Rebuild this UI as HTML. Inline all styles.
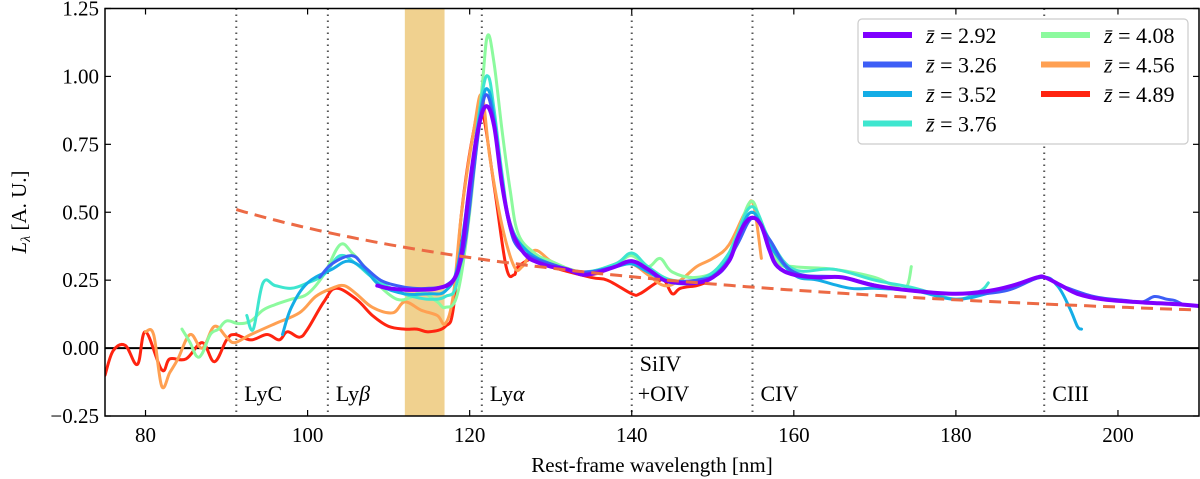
<!DOCTYPE html>
<html><head><meta charset="utf-8"><style>
html,body{margin:0;padding:0;background:#fff;}
svg{display:block;font-family:"Liberation Serif",serif;}
</style></head><body>
<svg id="chart" width="1200" height="479" viewBox="0 0 1200 479"></svg>
<script>
// ---- data ----
const xTicks=[80,100,120,140,160,180,200];
const yTicks=[-0.25,0,0.25,0.5,0.75,1.0,1.25];
const yTickLabels=["\u22120.25","0.00","0.25","0.50","0.75","1.00","1.25"];
const lineNames=["LyC","Ly\u03b2","Ly\u03b1","SiIV","CIV","CIII"];
const linePos=[91.2,102.5,121.5,140.0,154.9,190.9];
const bandRange=[112.0,116.9];
const powerLawAmp=0.51, powerLawRef=91.2, powerLawIdx=-1.55, powerLawStart=91.2, powerLawEnd=210;
const seriesLabels=["2.92","3.26","3.52","3.76","4.08","4.56","4.89"];
const seriesColors=["#7f00ff","#3d5ef6","#14ade6","#3ee6cf","#8cfa9e","#ffa052","#ff2410"];
const seriesWidths=[4,3,3,3,3,3,3];

const wl0=[108.6,110,112,114,116,118,119,120,121,122,123,124,125,126,127,128,130,132,134,136,138,140,142,144,146,148,150,152,153,154,155,156,157,158,160,163,166,170,175,180,184,187,190,191,193,195,198,202,205,208,210];
const v0=[0.23,0.22,0.215,0.215,0.22,0.25,0.35,0.6,0.8,0.89,0.82,0.6,0.45,0.38,0.34,0.32,0.30,0.29,0.27,0.28,0.30,0.32,0.29,0.25,0.24,0.24,0.26,0.32,0.40,0.46,0.48,0.45,0.36,0.30,0.27,0.26,0.26,0.23,0.21,0.20,0.21,0.23,0.26,0.26,0.23,0.20,0.18,0.17,0.165,0.16,0.155];
const wl1=[101.5,103,105.5,107,109,111,113,115,117,118.5,119.5,120.5,121.5,122.2,123,124,125,126,128,130,134,138,140,142,144,148,151,153,155,157,160,166,172,180,186,190.5,193,197,201,203,204.5,206,207,208];
const v1=[0.26,0.31,0.34,0.30,0.25,0.23,0.22,0.22,0.23,0.28,0.40,0.65,0.88,0.93,0.83,0.6,0.44,0.37,0.33,0.31,0.28,0.30,0.32,0.29,0.25,0.25,0.28,0.38,0.48,0.40,0.28,0.26,0.22,0.20,0.21,0.26,0.23,0.19,0.175,0.17,0.19,0.18,0.175,0.16];
const wl2=[96.9,98,100,103,105,107,109,112,115,117,118.5,120,121.5,122.3,123,124,125,127,130,134,138,140,142,145,149,152,154.7,157,160,163,167,170,175,180,185,190.5,192.5,194,195,195.5];
const v2=[0.05,0.15,0.24,0.29,0.32,0.29,0.23,0.20,0.20,0.21,0.30,0.6,0.9,0.95,0.85,0.62,0.45,0.36,0.31,0.28,0.30,0.31,0.28,0.24,0.25,0.33,0.50,0.38,0.27,0.25,0.22,0.22,0.21,0.18,0.21,0.26,0.23,0.15,0.08,0.07];
const wl3=[92.5,93.3,94.5,96,98,100,102,104,106,108,111,113,115,117,118.5,120,121.5,122.3,123,124,125,127,130,134,138,140,142,145,149,152,154.7,157,160,165,170,175,180,183,184];
const v3=[0.12,0.07,0.24,0.23,0.22,0.24,0.27,0.34,0.31,0.26,0.21,0.19,0.18,0.19,0.25,0.6,0.93,1.00,0.88,0.64,0.46,0.36,0.31,0.28,0.31,0.35,0.30,0.25,0.26,0.35,0.52,0.40,0.29,0.29,0.25,0.22,0.18,0.21,0.24];
const wl4=[84.5,85.5,86.3,87,88,89,90,91.5,93,94.5,96,98,100,102,104,105.5,107,108.5,111,113,114,116,117,118.5,120,121.5,122.2,123,124,125,126,128,130,134,138,140,142,143.5,145,148,151,153,154.7,156,158,160,165,170,173,174,174.5];
const v4=[0.07,0.02,-0.03,-0.02,0.05,0.07,0.10,0.09,0.10,0.14,0.16,0.18,0.20,0.27,0.38,0.35,0.30,0.24,0.18,0.19,0.21,0.17,0.15,0.20,0.5,0.95,1.15,1.05,0.8,0.58,0.42,0.35,0.32,0.28,0.31,0.34,0.30,0.33,0.28,0.26,0.30,0.42,0.54,0.46,0.32,0.30,0.29,0.26,0.22,0.23,0.30];
const wl5=[80,81,82,83,84,85.5,87,88.5,90,91,93,96,99,101,103,104.5,106,108,110.5,112,114,116,117,118,119,120.5,121.5,122.5,124,125.5,126.5,128,130,132,135,138,140,142,144,146,148,150,152,154,155,156];
const v5=[0.06,0.05,-0.14,-0.09,-0.04,0.05,0.00,0.08,0.04,0.02,0.05,0.09,0.13,0.19,0.22,0.23,0.20,0.15,0.13,0.17,0.14,0.12,0.09,0.2,0.5,0.8,0.93,0.7,0.45,0.30,0.30,0.36,0.32,0.29,0.27,0.30,0.31,0.27,0.23,0.25,0.30,0.33,0.38,0.50,0.53,0.33];
const wl6=[75,76,77.5,79,80,82,83,85,87,88.5,90,91,93,95,96.5,97.5,99,100,102,103.5,106,108,110,112,113.5,115,117,118,119,120.5,121.5,123,124.5,125.5,126,128,130,135,137,140,141,143,144,145,146,148,149];
const v6=[-0.1,-0.01,0.01,-0.06,0.06,-0.08,-0.04,-0.04,0.02,-0.05,0.03,0.05,0.03,0.05,0.03,0.06,0.04,0.07,0.17,0.22,0.18,0.12,0.08,0.07,0.07,0.06,0.08,0.15,0.5,0.8,0.88,0.6,0.30,0.27,0.30,0.33,0.30,0.26,0.25,0.20,0.20,0.24,0.25,0.20,0.22,0.23,0.24];
const seriesWl=[wl0,wl1,wl2,wl3,wl4,wl5,wl6];
const seriesVal=[v0,v1,v2,v3,v4,v5,v6];

// ---- layout ----
const L=105,R=1199,T=8.5,B=416;
const xMin=75,xMax=210,yMin=-0.25,yMax=1.25;
const X=v=>L+(v-xMin)/(xMax-xMin)*(R-L);
const Y=v=>B-(v-yMin)/(yMax-yMin)*(B-T);
const svg=document.getElementById('chart');
const NS="http://www.w3.org/2000/svg";
function mk(tag,attrs,parent){const e=document.createElementNS(NS,tag);for(const k in attrs)e.setAttribute(k,attrs[k]);(parent||svg).appendChild(e);return e;}
function smoothPath(pts){
  let d='M'+pts[0][0].toFixed(1)+' '+pts[0][1].toFixed(1);
  for(let i=0;i<pts.length-1;i++){
    const p0=pts[i-1]||pts[i],p1=pts[i],p2=pts[i+1],p3=pts[i+2]||p2;
    const t=0.18;
    const c1x=p1[0]+(p2[0]-p0[0])*t,c1y=p1[1]+(p2[1]-p0[1])*t;
    const c2x=p2[0]-(p3[0]-p1[0])*t,c2y=p2[1]-(p3[1]-p1[1])*t;
    d+=' C'+c1x.toFixed(1)+' '+c1y.toFixed(1)+' '+c2x.toFixed(1)+' '+c2y.toFixed(1)+' '+p2[0].toFixed(1)+' '+p2[1].toFixed(1);
  }
  return d;
}

const defs=mk('defs',{});
const cp=mk('clipPath',{id:'plotclip'},defs);
mk('rect',{x:L,y:T,width:R-L,height:B-T},cp);
const plot=mk('g',{'clip-path':'url(#plotclip)'});



const band=mk('rect',{x:X(bandRange[0]),y:T,width:X(bandRange[1])-X(bandRange[0]),height:B-T,fill:'#f0d18f'},plot);



const zl=mk('line',{x1:L,x2:R,y1:Y(0),y2:Y(0),stroke:'#000','stroke-width':2},plot);



linePos.forEach((p,i)=>{
  const ln=mk('line',{x1:X(p),x2:X(p),y1:T,y2:B,stroke:'#555','stroke-width':2,'stroke-dasharray':'1.5 4.5'},plot);
  
  
});

for(let s=seriesWl.length-1;s>=0;s--){
  const pts=seriesWl[s].map((w,i)=>[X(w),Y(seriesVal[s][i])]);
  const p=mk('path',{d:smoothPath(pts),fill:'none',stroke:seriesColors[s],'stroke-width':seriesWidths[s],'stroke-linejoin':'round','stroke-linecap':'round'},plot);
  
  
}

let pd='';
for(let w=powerLawStart;w<=powerLawEnd+0.01;w+=1){pd+=(pd?'L':'M')+X(w).toFixed(1)+' '+Y(powerLawAmp*Math.pow(w/powerLawRef,powerLawIdx)).toFixed(1)+' ';}
const pl=mk('path',{d:pd,fill:'none',stroke:'#ec6a45','stroke-width':3,'stroke-dasharray':'12 7'},plot);



lineNames.forEach((n,i)=>{
  if(n==='SiIV'){
    const t1=mk('text',{x:X(linePos[i])+8,y:371,'font-size':22,fill:'#000'});t1.textContent='SiIV';
    
    
    const t2=mk('text',{x:X(linePos[i])+6,y:401,'font-size':22,fill:'#000'});t2.textContent='+OIV';
    
    
  } else {
    const t=mk('text',{x:X(linePos[i])+8,y:401,'font-size':22,fill:'#000'});
    t.innerHTML=n==='Ly\u03b2'?'Ly<tspan font-style="italic">\u03b2</tspan>':n==='Ly\u03b1'?'Ly<tspan font-style="italic">\u03b1</tspan>':n;
    
    
  }
});

const fr=mk('rect',{x:L,y:T,width:R-L,height:B-T,fill:'none',stroke:'#000','stroke-width':1.5});



xTicks.forEach(t=>{
  const x=X(t);
  mk('line',{x1:x,x2:x,y1:B,y2:B-6,stroke:'#000','stroke-width':1.2});
  mk('line',{x1:x,x2:x,y1:T,y2:T+6,stroke:'#000','stroke-width':1.2});
  const tx=mk('text',{x:x,y:B+26,'font-size':21,'text-anchor':'middle'});tx.textContent=t;
  
  
});
yTicks.forEach((t,i)=>{
  const y=Y(t);
  mk('line',{x1:L,x2:L+6,y1:y,y2:y,stroke:'#000','stroke-width':1.2});
  mk('line',{x1:R-6,x2:R,y1:y,y2:y,stroke:'#000','stroke-width':1.2});
  const tx=mk('text',{x:L-6,y:y+7,'font-size':21,'text-anchor':'end'});tx.textContent=yTickLabels[i];
  
  
});

const xt=mk('text',{x:(L+R)/2,y:472,'font-size':21,'text-anchor':'middle'});xt.textContent='Rest-frame wavelength [nm]';


const yt=mk('text',{x:0,y:0,'font-size':21,'text-anchor':'middle',transform:'translate(26,212) rotate(-90)'});
yt.innerHTML='<tspan font-style="italic">L</tspan><tspan font-size="14" dy="4" font-style="italic">\u03bb</tspan><tspan dy="-4"> [A. U.]</tspan>';



const lg=mk('g',{});


mk('rect',{x:858,y:19,width:330,height:125,rx:4,fill:'#fff',stroke:'#ccc','stroke-width':1.2},lg);
seriesLabels.forEach((lab,i)=>{
  const col=i<4?0:1,row=i<4?i:i-4;
  const x0=863+col*178,y0=35+row*29.5;
  const e=mk('g',{},lg);
  
  
  mk('line',{x1:x0,x2:x0+49,y1:y0,y2:y0,stroke:seriesColors[i],'stroke-width':6},e);
  const t=mk('text',{x:x0+63,y:y0+8,'font-size':22},e);
  t.innerHTML='<tspan font-style="italic">z\u0304</tspan> = '+lab;
});
</script>
</body></html>
